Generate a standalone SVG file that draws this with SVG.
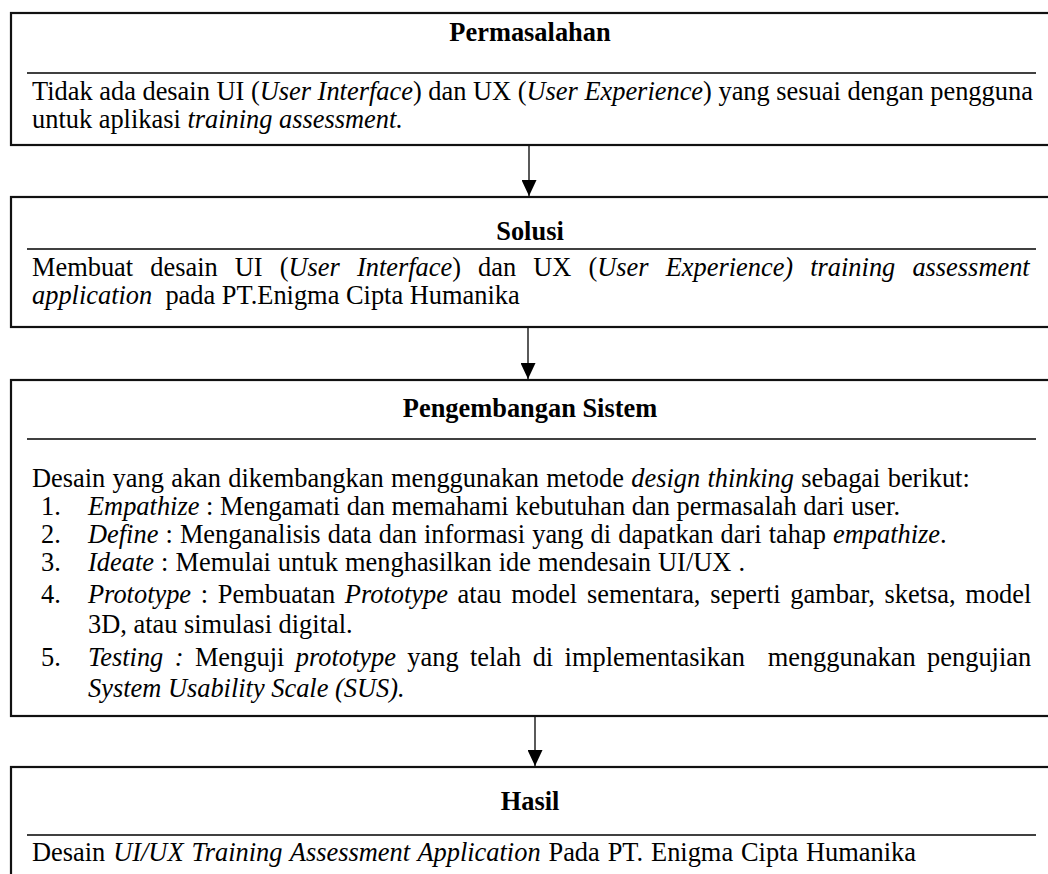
<svg xmlns="http://www.w3.org/2000/svg" width="1048" height="874" viewBox="0 0 1048 874">
<style>
.box{fill:#fff;stroke:#111;stroke-width:2.2}
.sep{stroke:#000;stroke-width:1.6}
.conn{stroke:#000;stroke-width:1.3;fill:none}
text{font-family:"Liberation Serif","Times New Roman",serif;font-size:26.4px;fill:#000}
.h{font-weight:bold;text-anchor:middle}
.i{font-style:italic}
</style>
<defs>
<marker id="ah" markerWidth="16" markerHeight="15" refX="16" refY="7.5" orient="auto" markerUnits="userSpaceOnUse" viewBox="0 0 16 15">
<path d="M0,0 L16,7.5 L0,15 Z" fill="#000"/>
</marker>
</defs>
<g id="permasalahan">
<rect class="box" x="11" y="13" width="1060" height="132"/>
<line class="sep" x1="27" y1="73" x2="1036" y2="73"/>
<text class="h" x="530" y="41">Permasalahan</text>
<text x="32" y="100">Tidak ada desain UI (<tspan class="i">User Interface</tspan>) dan UX (<tspan class="i">User Experience</tspan>) yang sesuai dengan pengguna</text>
<text x="32" y="128">untuk aplikasi <tspan class="i">training assessment.</tspan></text>
</g>
<g id="solusi">
<rect class="box" x="11" y="197" width="1060" height="130"/>
<line class="sep" x1="27" y1="249" x2="1036" y2="249"/>
<text class="h" x="530" y="240">Solusi</text>
<text x="32" y="276" word-spacing="10.5">Membuat desain UI (<tspan class="i">User Interface</tspan>) dan UX (<tspan class="i">User Experience) training assessment</tspan></text>
<text x="32" y="304" xml:space="preserve"><tspan class="i">application</tspan>  pada PT.Enigma Cipta Humanika</text>
</g>
<g id="pengembangan">
<rect class="box" x="11" y="380" width="1060" height="336"/>
<line class="sep" x1="27" y1="439" x2="1036" y2="439"/>
<text class="h" x="530" y="417">Pengembangan Sistem</text>
<text x="32" y="487" word-spacing="0.7">Desain yang akan dikembangkan menggunakan metode <tspan class="i">design thinking</tspan> sebagai berikut:</text>
<text y="515"><tspan x="41">1.</tspan><tspan x="88"><tspan class="i">Empathize</tspan> : Mengamati dan memahami kebutuhan dan permasalah dari user.</tspan></text>
<text y="543" word-spacing="0.5"><tspan x="41">2.</tspan><tspan x="88"><tspan class="i">Define</tspan> : Menganalisis data dan informasi yang di dapatkan dari tahap <tspan class="i">empathize</tspan>.</tspan></text>
<text y="571" word-spacing="0.5"><tspan x="41">3.</tspan><tspan x="88"><tspan class="i">Ideate</tspan> : Memulai untuk menghasilkan ide mendesain UI/UX .</tspan></text>
<text y="603" word-spacing="3.1"><tspan x="41">4.</tspan><tspan x="88"><tspan class="i">Prototype</tspan> : Pembuatan <tspan class="i">Prototype</tspan> atau model sementara, seperti gambar, sketsa, model</tspan></text>
<text x="88" y="633">3D, atau simulasi digital.</text>
<text y="666" word-spacing="4.8" xml:space="preserve"><tspan x="41">5.</tspan><tspan x="88"><tspan class="i">Testing :</tspan> Menguji <tspan class="i">prototype</tspan> yang telah di implementasikan  menggunakan pengujian</tspan></text>
<text x="88" y="697" class="i">System Usability Scale (SUS).</text>
</g>
<g id="hasil">
<rect class="box" x="11" y="767" width="1060" height="130"/>
<line class="sep" x1="27" y1="835" x2="1036" y2="835"/>
<text class="h" x="530" y="810">Hasil</text>
<text x="32" y="861" word-spacing="1.3">Desain <tspan class="i">UI/UX Training Assessment Application</tspan> Pada PT. Enigma Cipta Humanika</text>
</g>
<g id="connectors">
<line class="conn" x1="529" y1="146" x2="529" y2="196" marker-end="url(#ah)"/>
<line class="conn" x1="528" y1="328" x2="528" y2="379" marker-end="url(#ah)"/>
<line class="conn" x1="535" y1="717" x2="535" y2="766" marker-end="url(#ah)"/>
</g>
</svg>
